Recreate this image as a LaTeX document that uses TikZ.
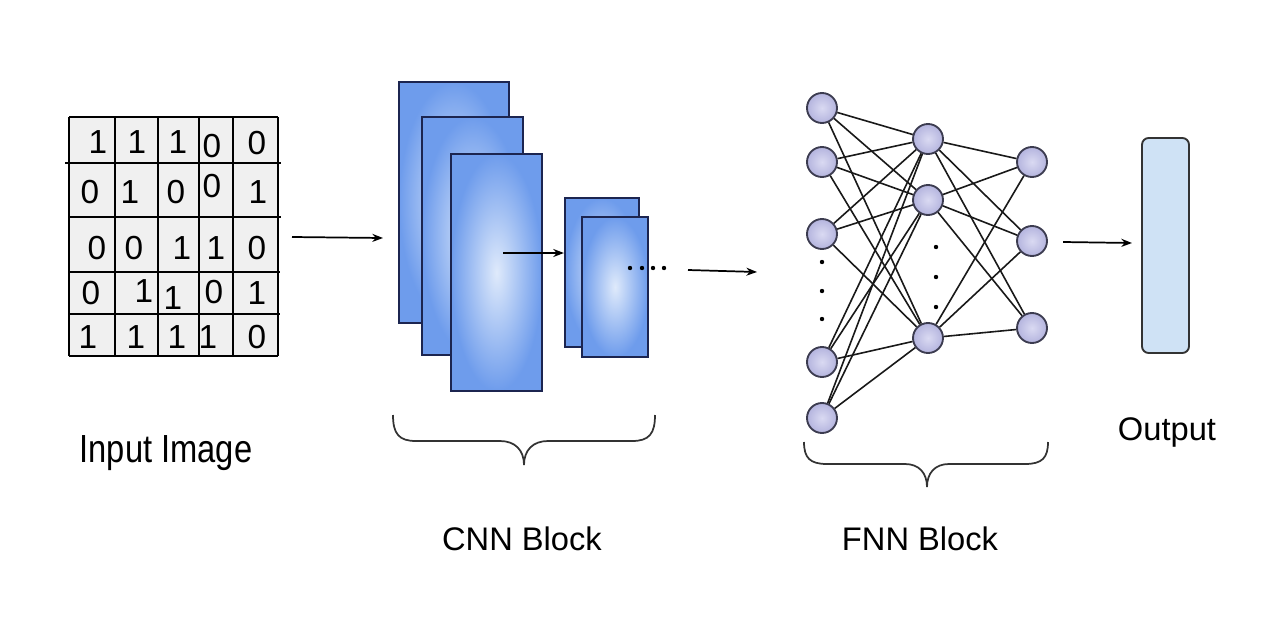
\documentclass[tikz,border=0pt]{standalone}
\usepackage{fontspec}
\setmainfont{Liberation Sans}
\usetikzlibrary{arrows.meta}
\definecolor{cellgray}{HTML}{F0F0F0}
\definecolor{mapedge}{HTML}{1C2550}
\definecolor{mapin}{HTML}{DFEAFB}
\definecolor{mapout}{HTML}{6E9CEC}
\definecolor{neuin}{HTML}{DADAF2}
\definecolor{neuout}{HTML}{B4B4DE}
\definecolor{neuedge}{HTML}{3C3C50}
\definecolor{outfill}{HTML}{CFE2F5}
\definecolor{outedge}{HTML}{333333}
\begin{document}
\begin{tikzpicture}[x=0.75pt,y=-0.75pt,
  gridline/.style={line width=1.3pt,black},
  digit/.style={font=\fontsize{25pt}{25pt}\selectfont,inner sep=0pt},
  label/.style={font=\fontsize{24.5pt}{24.5pt}\selectfont,anchor=base,inner sep=0pt},
  fmap/.style={draw=mapedge,line width=1.6pt,inner color=mapin,outer color=mapout,inner sep=0pt},
  neuron/.style={circle,draw=neuedge,line width=1.4pt,inner color=neuin,outer color=neuout,minimum size=22.5pt,inner sep=0pt},
  link/.style={line width=1.2pt,black!90},
  arrow/.style={line width=1.3pt,black,-{Stealth[length=8pt,width=6pt]}},
  brace/.style={line width=1.3pt,outedge},
  dot/.style={circle,fill=black,inner sep=0pt,minimum size=3.3pt}]
\useasboundingbox (0,0) rectangle (1267,636);

% ---------- input grid ----------
\fill[cellgray] (69,117) rectangle (278,356);
\foreach \xx in {69,115,158,199,233,278} \draw[gridline] (\xx,117) -- (\xx,356);
\draw[gridline] (69,117) -- (278,117);
\draw[gridline] (69,356) -- (278,356);
\draw[gridline] (65,163) -- (281,163);
\draw[gridline] (69,217) -- (281,217);
\draw[gridline] (69,272) -- (280,272);
\draw[gridline] (69,314) -- (280,314);

\node[digit] (d11) at (98,142) {1};
\node[digit] (d12) at (137,142) {1};
\node[digit] (d13) at (178,142) {1};
\node[digit] (d14) at (212,146) {0};
\node[digit] (d15) at (257,143) {0};

\node[digit] (d21) at (90,192) {0};
\node[digit] (d22) at (130,192) {1};
\node[digit] (d23) at (176,192) {0};
\node[digit] (d24) at (212,186) {0};
\node[digit] (d25) at (258,192) {1};

\node[digit] (d31) at (97,248) {0};
\node[digit] (d32) at (134,248) {0};
\node[digit] (d33) at (182,248) {1};
\node[digit] (d34) at (216,248) {1};
\node[digit] (d35) at (257,248) {0};

\node[digit] (d41) at (91,293) {0};
\node[digit] (d42) at (144,291) {1};
\node[digit] (d43) at (173,298) {1};
\node[digit] (d44) at (214,292) {0};
\node[digit] (d45) at (257,293) {1};

\node[digit] (d51) at (88,337) {1};
\node[digit] (d52) at (136,337) {1};
\node[digit] (d53) at (177,337) {1};
\node[digit] (d54) at (208,337) {1};
\node[digit] (d55) at (257,337) {0};

\node[label] (inlab) at (166,462) {\scalebox{1}[1.2]{Input Image}};

% ---------- CNN block ----------
\node[fmap,minimum width={110*0.75pt},minimum height={241*0.75pt}] (c1) at (454,202.5) {};
\node[fmap,minimum width={101*0.75pt},minimum height={238*0.75pt}] (c2) at (472.5,236) {};
\node[fmap,minimum width={91*0.75pt},minimum height={237*0.75pt}] (c3) at (496.5,272.5) {};
\node[fmap,minimum width={74*0.75pt},minimum height={149*0.75pt}] (s1) at (602,272.5) {};
\node[fmap,minimum width={66*0.75pt},minimum height={140*0.75pt}] (s2) at (615,287) {};

\coordinate (a2s) at (503,253);
\draw[arrow] (a2s) -- (a2s -| s1.west);

\node[dot] (cd1) at (630,268) {};
\node[dot] (cd2) at (642,268) {};
\node[dot] (cd3) at (653,268) {};
\node[dot] (cd4) at (664,268) {};

\draw[brace] (393,415) .. controls (393,434) and (399,441) .. (416,441) -- (500,441)
  .. controls (515,441) and (524,450) .. (524,465)
  .. controls (524,450) and (533,441) .. (548,441) -- (632,441)
  .. controls (649,441) and (655,434) .. (655,415);
\node[label] (cnnlab) at (522,550) {CNN Block};

% ---------- arrows between blocks ----------
\coordinate (a1s) at (292,237);
\coordinate (a1e) at (383,238);
\draw[arrow] (a1s) -- (a1e);
\coordinate (a3s) at (688,270);
\coordinate (a3e) at (757,272);
\draw[arrow] (a3s) -- (a3e);

% ---------- FNN block ----------
\node[neuron] (L1) at (822,108) {};
\node[neuron] (L2) at (822,162) {};
\node[neuron] (L3) at (822,234) {};
\node[neuron] (L4) at (822,362) {};
\node[neuron] (L5) at (822,418) {};
\node[neuron] (M1) at (928,139) {};
\node[neuron] (M2) at (928,200) {};
\node[neuron] (M3) at (928,338) {};
\node[neuron] (R1) at (1032,162) {};
\node[neuron] (R2) at (1032,241) {};
\node[neuron] (R3) at (1032,328) {};

\foreach \a in {L1,L2,L3,L4,L5}
  \foreach \b in {M1,M2,M3}
    \draw[link] (\a) -- (\b);
\foreach \a in {M1,M2,M3}
  \foreach \b in {R1,R2,R3}
    \draw[link] (\a) -- (\b);

\node[dot] (ld1) at (822,262) {};
\node[dot] (ld2) at (822,291) {};
\node[dot] (ld3) at (822,319) {};
\node[dot] (md1) at (936,247) {};
\node[dot] (md2) at (936,277) {};
\node[dot] (md3) at (936,307) {};

\draw[brace] (804,442) .. controls (804,458) and (810,464) .. (827,464) -- (905,464)
  .. controls (919,464) and (927,473) .. (927,487)
  .. controls (927,473) and (935,464) .. (949,464) -- (1025,464)
  .. controls (1042,464) and (1048,458) .. (1048,442);
\node[label] (fnnlab) at (920,550) {FNN Block};

% ---------- output ----------
\node[draw=outedge,fill=outfill,line width=1.4pt,rounded corners=5pt,inner sep=0pt,
  minimum width={47*0.75pt},minimum height={215*0.75pt}] (out) at (1165.5,245.5) {};
\coordinate (a4s) at (1063,242);
\coordinate (a4e) at (1132,243);
\draw[arrow] (a4s) -- (a4e);
\node[label] (outlab) at (1167,440) {Output};
\end{tikzpicture}
\end{document}
